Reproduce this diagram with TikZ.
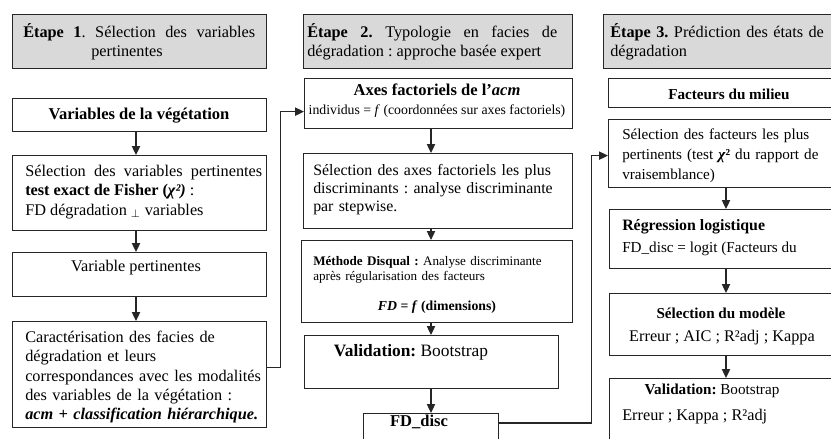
\documentclass[tikz,border=0pt]{standalone}
\usepackage{fontspec}
\setmainfont{LiberationSerif}[Extension=.ttf, UprightFont=*-Regular, BoldFont=*-Bold, ItalicFont=*-Italic, BoldItalicFont=*-BoldItalic]
\usetikzlibrary{calc,arrows.meta}
\definecolor{headfill}{HTML}{D9D9D9}
\definecolor{edge}{HTML}{262626}
\newlength\pxl
\setlength\pxl{0.0255cm}
\frenchspacing

\begin{document}
\begin{tikzpicture}[x=0.0255cm, y=-0.0255cm,
		frame/.style={draw=edge, line width=0.9pt, fill=white, inner sep=0pt, anchor=north west},
		head/.style={frame, fill=headfill},
		txt/.style={inner sep=0pt, anchor=west, align=left, font=\fontsize{11.8}{14}\selectfont},
		arr/.style={draw=edge, line width=0.9pt, -{Triangle[length=6.5pt,width=6pt]}}]
	%%%%% START %%%%%
	\useasboundingbox (0,0) rectangle (831,438);
	\clip (0,0) rectangle (831,438);
	
	\coordinate (a1) at (136,0);
	\coordinate (a2) at (431,0);
	\coordinate (a3) at (726,0);
	
	% étape 1
	\node[head, minimum width=254\pxl, minimum height=54\pxl] (h1) at (12,14) {};
	\node[txt, text width=232\pxl, align=justify] (h1t) at (23,42) {\textbf{Étape 1}. Sélection des variables\linebreak\hspace*{68\pxl}pertinentes};
	
	\node[frame, minimum width=254\pxl, minimum height=33\pxl] (veg) at (12,98) {};
	\node[txt, anchor=center, font=\fontsize{12}{14}\selectfont\bfseries] (vegt) at (139,116) {Variables de la végétation};
	
	\node[frame, minimum width=254\pxl, minimum height=75\pxl] (sel) at (12,155) {};
	\node[txt, text width=237\pxl, align=justify] (selt) at (25,192) {Sélection des variables pertinentes\linebreak
		\textbf{test exact de Fisher (\textit{χ²)}} :\\
		FD dégradation $_\perp$ variables};
	
	\node[frame, minimum width=254\pxl, minimum height=44\pxl] (varp) at (12,252) {};
	\node[txt, anchor=center] (varpt) at (136,268) {Variable pertinentes};
	
	\node[frame, minimum width=254\pxl, minimum height=106\pxl] (car) at (12,321) {};
	\node[txt, text width=245\pxl] (cart) at (25,377) {Caractérisation des facies de\\
		dégradation et leurs\\
		correspondances avec les modalités\\
		des variables de la végétation :\\
		\textbf{\textit{acm + classification hiérarchique.}}};
	
	% étape 2
	\node[head, minimum width=269\pxl, minimum height=54\pxl] (h2) at (303,14) {};
	\node[txt, text width=250\pxl, align=justify] (h2t) at (307,42) {\textbf{Étape 2.} Typologie en facies de\linebreak dégradation : approche basée expert};
	
	\node[frame, minimum width=268\pxl, minimum height=50\pxl] (axes) at (304,78) {};
	\node[txt, anchor=center, font=\fontsize{12}{14}\selectfont\bfseries] (axest) at (437,90) {Axes factoriels de l’\textit{acm}};
	\node[txt, anchor=center, font=\fontsize{10}{12}\selectfont] (axesf) at (437,111) {individus = \textit{f} (coordonnées sur axes factoriels)};
	
	\node[frame, minimum width=269\pxl, minimum height=75\pxl] (selax) at (303,153) {};
	\node[txt, text width=260\pxl, font=\fontsize{11.5}{13}\selectfont] (selaxt) at (313,190) {Sélection des axes factoriels les plus\\
		discriminants : analyse discriminante\\
		par stepwise.};
	
	\node[frame, minimum width=271\pxl, minimum height=82\pxl] (disq) at (301,240) {};
	\node[txt, text width=250\pxl, font=\fontsize{9.5}{10.5}\selectfont] (disqt) at (313,270) {\textbf{Méthode Disqual :} Analyse discriminante\\
		après régularisation des facteurs};
	\node[txt, anchor=center, font=\fontsize{10}{12}\selectfont\bfseries] (disqf) at (437,307) {\textit{FD} = \textit{f} (dimensions)};
	
	\node[frame, minimum width=254\pxl, minimum height=53\pxl] (val2) at (304,335) {};
	\node[txt, anchor=center, font=\fontsize{12.6}{15}\selectfont] (val2t) at (411,352) {\textbf{Validation:} Bootstrap};
	
	\node[frame, minimum width=135\pxl, minimum height=40\pxl] (fdd) at (363,413) {};
	\node[txt, anchor=center, font=\fontsize{12}{14}\selectfont\bfseries] (fddt) at (419,422) {FD\_disc};
	
	% étape 3
	\node[head, minimum width=240\pxl, minimum height=54\pxl] (h3) at (603,14) {};
	\node[txt, text width=225\pxl] (h3t) at (610,42) {\textbf{Étape 3.} Prédiction des états de\\ dégradation};
	
	\node[frame, minimum width=235\pxl, minimum height=29\pxl] (fm) at (608,78) {};
	\node[txt, anchor=center, font=\fontsize{11}{13}\selectfont\bfseries] (fmt) at (729,94) {Facteurs du milieu};
	
	\node[frame, minimum width=235\pxl, minimum height=68\pxl] (selfa) at (608,119) {};
	\node[txt, text width=215\pxl, font=\fontsize{11}{14.5}\selectfont] (selfat) at (622,156) {Sélection des facteurs les plus\\
		pertinents (test \textbf{\textit{χ}²} du rapport de\\
		vraisemblance)};
	
	\node[frame, minimum width=234\pxl, minimum height=59\pxl] (reg) at (609,209) {};
	\node[txt, font=\fontsize{11.5}{13}\selectfont\bfseries] (regt) at (622,227) {Régression logistique};
	\node[txt, font=\fontsize{11}{13}\selectfont] (regf) at (622,249) {FD\_disc = logit (Facteurs du};
	
	\node[frame, minimum width=234\pxl, minimum height=62\pxl] (mod) at (609,293) {};
	\node[txt, anchor=center, font=\fontsize{11}{13}\selectfont\bfseries] (modt) at (721,313) {Sélection du modèle};
	\node[txt, anchor=center] (modf) at (722,338) {Erreur ; AIC ; R²adj ; Kappa};
	
	\node[frame, minimum width=234\pxl, minimum height=70\pxl] (val3) at (609,378) {};
	\node[txt, anchor=center, font=\fontsize{11}{13}\selectfont] (val3t) at (712,391) {\textbf{Validation:} Bootstrap};
	\node[txt] (val3f) at (622,417) {Erreur ; Kappa ; R²adj};
	
	% flèches
	\draw[arr] (veg.south -| a1) -- (sel.north -| a1);
	\draw[arr] (sel.south -| a1) -- (varp.north -| a1);
	\draw[arr] (varp.south -| a1) -- (car.north -| a1);
	\draw[arr] (axes.south -| a2) -- (selax.north -| a2);
	\draw[arr] (selax.south -| a2) -- (disq.north -| a2);
	\draw[arr] (disq.south -| a2) -- (val2.north -| a2);
	\draw[arr] (val2.south -| a2) -- (fdd.north -| a2);
	\draw[arr] (selfa.south -| a3) -- (reg.north -| a3);
	\draw[arr] (reg.south -| a3) -- (mod.north -| a3);
	\draw[arr] (mod.south -| a3) -- (val3.north -| a3);
	\draw[arr] ($(car.east)+(0,-7)$) -- ++(13,0) |- ($(axes.west)+(0,8)$);
	\draw[arr] ($(fdd.north east)+(0,10)$) -- ++(92,0) |- ($(selfa.west)+(0,2)$);
	
	%%%%% END %%%%%
\end{tikzpicture}
\end{document}
